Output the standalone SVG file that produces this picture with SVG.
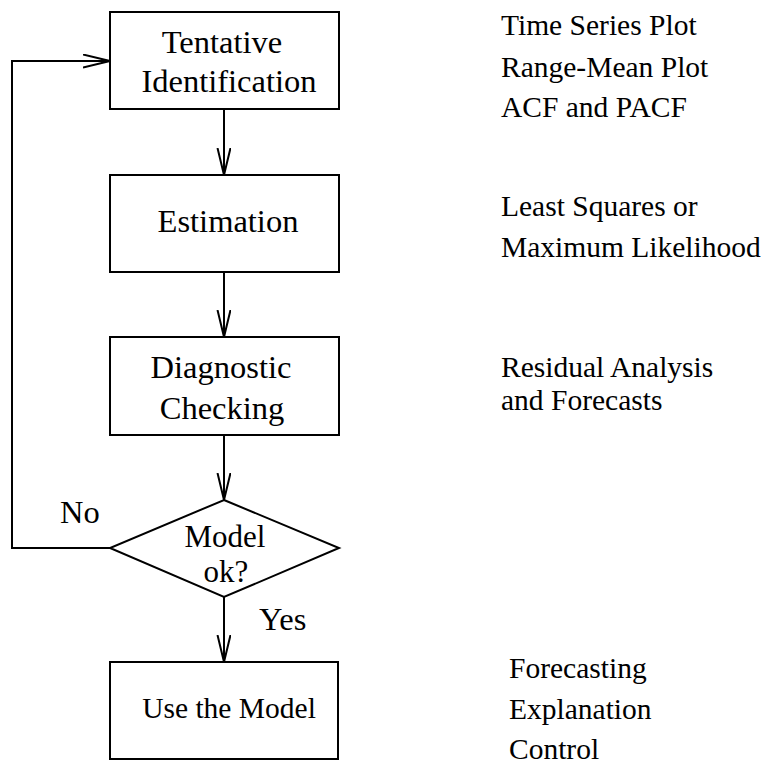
<svg xmlns="http://www.w3.org/2000/svg" width="766" height="765" viewBox="0 0 766 765">
<style>
.box{fill:#fff;stroke:#000;stroke-width:2}
.ln{fill:none;stroke:#000;stroke-width:2}
.t{font-family:"Liberation Serif","Times New Roman",serif;fill:#000}
.big{font-size:32.5px}
.mid{font-size:31px}
.sm{font-size:29.5px}
.c{text-anchor:middle}
</style>
<defs>
<marker id="ah" markerUnits="userSpaceOnUse" markerWidth="30" markerHeight="16" refX="27" refY="7" orient="auto">
<path d="M0,0.5 L27,7 L0,13.5" fill="none" stroke="#000" stroke-width="2"/>
</marker>
</defs>
<rect width="766" height="765" fill="#fff"/>
<g id="connectors">
<path class="ln" d="M224,109 V175" marker-end="url(#ah)"/>
<path class="ln" d="M224,272 V337" marker-end="url(#ah)"/>
<path class="ln" d="M224,435 V500" marker-end="url(#ah)"/>
<path class="ln" d="M224,597 V662" marker-end="url(#ah)"/>
<path class="ln" d="M110,548 H12 V61 H110" marker-end="url(#ah)"/>
<text class="t big" x="60" y="523">No</text>
<text class="t big" x="259" y="630">Yes</text>
</g>
<g id="identification">
<rect class="box" x="110" y="12" width="229" height="97"/>
<text class="t big c" x="222" y="53">Tentative</text>
<text class="t big c" x="229" y="92">Identification</text>
</g>
<g id="estimation">
<rect class="box" x="110" y="175" width="229" height="97"/>
<text class="t big c" x="228" y="232">Estimation</text>
</g>
<g id="diagnostic">
<rect class="box" x="110" y="337" width="229" height="98"/>
<text class="t big c" x="221" y="378">Diagnostic</text>
<text class="t big c" x="222" y="419">Checking</text>
</g>
<g id="decision">
<polygon class="box" points="224,500 339,548 224,597 110,548"/>
<text class="t mid c" x="225" y="547">Model</text>
<text class="t mid c" x="226" y="582">ok?</text>
</g>
<g id="use">
<rect class="box" x="110" y="662" width="228" height="97"/>
<text class="t sm c" x="229" y="718">Use the Model</text>
</g>
<g id="notes">
<text class="t sm" x="501" y="35">Time Series Plot</text>
<text class="t sm" x="501" y="77">Range-Mean Plot</text>
<text class="t sm" x="501" y="117">ACF and PACF</text>
<text class="t sm" x="501" y="216">Least Squares or</text>
<text class="t sm" x="501" y="257">Maximum Likelihood</text>
<text class="t sm" x="501" y="377">Residual Analysis</text>
<text class="t sm" x="501" y="410">and Forecasts</text>
<text class="t sm" x="509" y="678">Forecasting</text>
<text class="t sm" x="509" y="719">Explanation</text>
<text class="t sm" x="509" y="759">Control</text>
</g>
</svg>
